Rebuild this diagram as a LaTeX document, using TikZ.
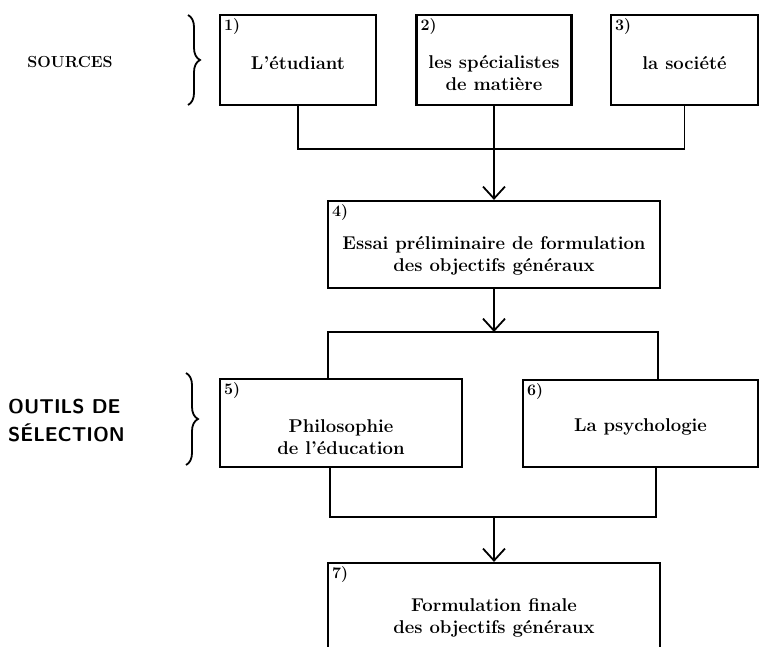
\documentclass[tikz,border=0pt]{standalone}
\usepackage{fontspec}
\usetikzlibrary{arrows.meta,decorations.pathreplacing}
\tikzset{every picture/.style={x=1pt,y=-1pt}}
\tikzset{box/.style={draw,line width=2.2pt,inner sep=0pt}}
\tikzset{num/.style={anchor=north west,inner sep=0pt,font=\fontsize{16}{18}\selectfont\bfseries}}
\tikzset{txt/.style={align=center,inner sep=0pt,font=\fontsize{18.5}{22}\selectfont\bfseries}}
\tikzset{side/.style={align=left,inner sep=0pt,font=\fontsize{20}{28}\selectfont\sffamily\bfseries}}
\tikzset{link/.style={line width=1.8pt}}
\tikzset{edge/.style={line width=1.8pt,-{Straight Barb[length=12pt,width=22pt,line width=1.8pt]}}}
\tikzset{brc/.style={line width=1.8pt,decorate,decoration={brace,amplitude=12pt}}}

\begin{document}
\begin{tikzpicture}
\useasboundingbox (0,0) rectangle (760,647);

\node [box,minimum width=156,minimum height=90] (b1) at (298,60) {};
\node [box,minimum width=155,minimum height=90] (b2) at (494,60) {};
\node [box,minimum width=147,minimum height=90] (b3) at (684.5,60) {};
\node [box,minimum width=332,minimum height=87] (b4) at (494,244.5) {};
\node [box,minimum width=242,minimum height=88] (b5) at (341,423) {};
\node [box,minimum width=235,minimum height=87] (b6) at (640.5,423.5) {};
\node [box,minimum width=332,minimum height=97] (b7) at (494,611.5) {};

\node [num] (n1) at ([shift={(5,4)}]b1.north west) {1)};
\node [num] (n2) at ([shift={(5,4)}]b2.north west) {2)};
\node [num] (n3) at ([shift={(5,4)}]b3.north west) {3)};
\node [num] (n4) at ([shift={(5,4)}]b4.north west) {4)};
\node [num] (n5) at ([shift={(5,4)}]b5.north west) {5)};
\node [num] (n6) at ([shift={(5,4)}]b6.north west) {6)};
\node [num] (n7) at ([shift={(5,4)}]b7.north west) {7)};

\node [txt] (t1) at (298,63) {L'étudiant};
\node [txt] (t2) at (494,73) {les spécialistes\\de matière};
\node [txt] (t3) at (684.5,63) {la société};
\node [txt] (t4) at (494,256) {Essai préliminaire de formulation\\des objectifs généraux};
\node [txt] (t5) at (341,437) {Philosophie\\de l'éducation};
\node [txt] (t6) at (640.5,427) {La psychologie};
\node [txt] (t7) at (494,618) {Formulation finale\\des objectifs généraux};

\node [side,font=\fontsize{16}{18}\selectfont\bfseries] (s1) at (70,62) {SOURCES};
\node [side,anchor=west] (s2) at (8,421) {OUTILS DE\\SÉLECTION};

\coordinate (br1) at (188,15);
\coordinate (br2) at (188,105);
\coordinate (br3) at (186,373);
\coordinate (br4) at (186,465);
\draw [brc] (br1) -- (br2);
\draw [brc] (br3) -- (br4);

\coordinate (j1) at (494,149);
\coordinate (j2) at (494,332);
\coordinate (u1) at (328,332);
\coordinate (u2) at (658,332);
\coordinate (l1) at (330,517);
\coordinate (l2) at (656,517);
\coordinate (j3) at (494,517);

\draw [link] (b1.south) |- (j1) -| (b3.south);
\draw [edge] (b2.south) -- (b4.north);

\draw [edge] (b4.south) -- (j2);
\draw [link] (u1 |- b5.north) -- (u1) -- (u2) -- (u2 |- b6.north);

\draw [link] (l1 |- b5.south) -- (l1) -- (l2) -- (l2 |- b6.south);
\draw [edge] (j3) -- (b7.north);
\end{tikzpicture}
\end{document}
